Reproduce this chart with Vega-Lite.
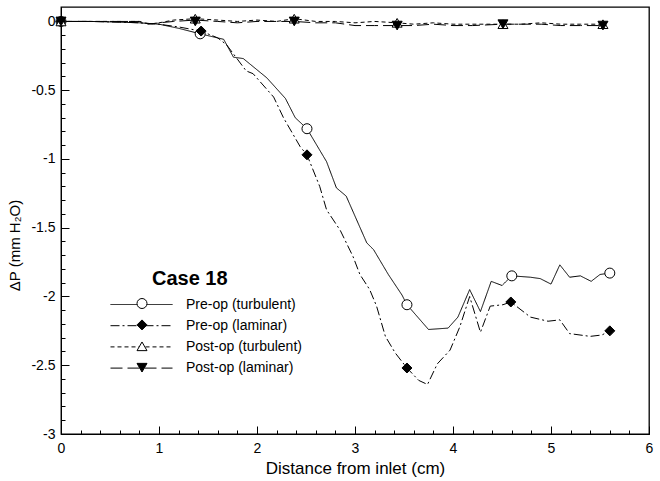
{
  "$schema": "https://vega.github.io/schema/vega-lite/v6.json",
  "autosize": {"type": "none"},
  "padding": {"left": 61, "top": 7, "right": 11, "bottom": 47},
  "width": 588,
  "height": 427,
  "background": "white",
  "config": {
    "view": {"stroke": "black", "strokeWidth": 1.3},
    "font": "Liberation Sans",
    "axis": {"grid": false, "labelColor": "black", "titleColor": "black", "tickColor": "black", "domainColor": "black", "labelFont": "Liberation Sans", "titleFont": "Liberation Sans"},
    "legend": {"labelFont": "Liberation Sans", "titleFont": "Liberation Sans", "labelColor": "black", "titleColor": "black"}
  },
  "datasets": {
    "curves": [
      {"series": "Pre-op (turbulent)", "x": 0, "y": 0},
      {"series": "Pre-op (turbulent)", "x": 0.3, "y": 0},
      {"series": "Pre-op (turbulent)", "x": 0.6, "y": -0.005},
      {"series": "Pre-op (turbulent)", "x": 0.8, "y": -0.01},
      {"series": "Pre-op (turbulent)", "x": 1.0, "y": -0.02},
      {"series": "Pre-op (turbulent)", "x": 1.2, "y": -0.05},
      {"series": "Pre-op (turbulent)", "x": 1.42, "y": -0.09},
      {"series": "Pre-op (turbulent)", "x": 1.6, "y": -0.12},
      {"series": "Pre-op (turbulent)", "x": 1.66, "y": -0.13},
      {"series": "Pre-op (turbulent)", "x": 1.76, "y": -0.26},
      {"series": "Pre-op (turbulent)", "x": 1.86, "y": -0.27},
      {"series": "Pre-op (turbulent)", "x": 2.1, "y": -0.41},
      {"series": "Pre-op (turbulent)", "x": 2.29, "y": -0.56},
      {"series": "Pre-op (turbulent)", "x": 2.39, "y": -0.7},
      {"series": "Pre-op (turbulent)", "x": 2.51, "y": -0.78},
      {"series": "Pre-op (turbulent)", "x": 2.71, "y": -1.02},
      {"series": "Pre-op (turbulent)", "x": 2.81, "y": -1.21},
      {"series": "Pre-op (turbulent)", "x": 2.91, "y": -1.27},
      {"series": "Pre-op (turbulent)", "x": 3.12, "y": -1.61},
      {"series": "Pre-op (turbulent)", "x": 3.19, "y": -1.66},
      {"series": "Pre-op (turbulent)", "x": 3.34, "y": -1.84},
      {"series": "Pre-op (turbulent)", "x": 3.48, "y": -1.99},
      {"series": "Pre-op (turbulent)", "x": 3.53, "y": -2.06},
      {"series": "Pre-op (turbulent)", "x": 3.75, "y": -2.24},
      {"series": "Pre-op (turbulent)", "x": 3.95, "y": -2.23},
      {"series": "Pre-op (turbulent)", "x": 4.05, "y": -2.15},
      {"series": "Pre-op (turbulent)", "x": 4.17, "y": -1.95},
      {"series": "Pre-op (turbulent)", "x": 4.28, "y": -2.11},
      {"series": "Pre-op (turbulent)", "x": 4.39, "y": -1.89},
      {"series": "Pre-op (turbulent)", "x": 4.5, "y": -1.92},
      {"series": "Pre-op (turbulent)", "x": 4.6, "y": -1.85},
      {"series": "Pre-op (turbulent)", "x": 4.79, "y": -1.86},
      {"series": "Pre-op (turbulent)", "x": 4.89, "y": -1.87},
      {"series": "Pre-op (turbulent)", "x": 5.0, "y": -1.91},
      {"series": "Pre-op (turbulent)", "x": 5.09, "y": -1.77},
      {"series": "Pre-op (turbulent)", "x": 5.19, "y": -1.86},
      {"series": "Pre-op (turbulent)", "x": 5.3, "y": -1.85},
      {"series": "Pre-op (turbulent)", "x": 5.41, "y": -1.89},
      {"series": "Pre-op (turbulent)", "x": 5.5, "y": -1.84},
      {"series": "Pre-op (turbulent)", "x": 5.6, "y": -1.83},
      {"series": "Pre-op (laminar)", "x": 0, "y": 0},
      {"series": "Pre-op (laminar)", "x": 0.3, "y": 0},
      {"series": "Pre-op (laminar)", "x": 0.6, "y": -0.005},
      {"series": "Pre-op (laminar)", "x": 0.8, "y": -0.01},
      {"series": "Pre-op (laminar)", "x": 1.0, "y": -0.02},
      {"series": "Pre-op (laminar)", "x": 1.2, "y": -0.04},
      {"series": "Pre-op (laminar)", "x": 1.43, "y": -0.07},
      {"series": "Pre-op (laminar)", "x": 1.6, "y": -0.12},
      {"series": "Pre-op (laminar)", "x": 1.69, "y": -0.17},
      {"series": "Pre-op (laminar)", "x": 1.89, "y": -0.36},
      {"series": "Pre-op (laminar)", "x": 1.96, "y": -0.38},
      {"series": "Pre-op (laminar)", "x": 2.17, "y": -0.55},
      {"series": "Pre-op (laminar)", "x": 2.27, "y": -0.7},
      {"series": "Pre-op (laminar)", "x": 2.44, "y": -0.91},
      {"series": "Pre-op (laminar)", "x": 2.51, "y": -0.97},
      {"series": "Pre-op (laminar)", "x": 2.64, "y": -1.2},
      {"series": "Pre-op (laminar)", "x": 2.71, "y": -1.37},
      {"series": "Pre-op (laminar)", "x": 2.85, "y": -1.52},
      {"series": "Pre-op (laminar)", "x": 2.98, "y": -1.71},
      {"series": "Pre-op (laminar)", "x": 3.05, "y": -1.84},
      {"series": "Pre-op (laminar)", "x": 3.15, "y": -1.95},
      {"series": "Pre-op (laminar)", "x": 3.22, "y": -2.07},
      {"series": "Pre-op (laminar)", "x": 3.31, "y": -2.29},
      {"series": "Pre-op (laminar)", "x": 3.41, "y": -2.41},
      {"series": "Pre-op (laminar)", "x": 3.53, "y": -2.52},
      {"series": "Pre-op (laminar)", "x": 3.65, "y": -2.61},
      {"series": "Pre-op (laminar)", "x": 3.74, "y": -2.64},
      {"series": "Pre-op (laminar)", "x": 3.84, "y": -2.49},
      {"series": "Pre-op (laminar)", "x": 3.97, "y": -2.39},
      {"series": "Pre-op (laminar)", "x": 4.07, "y": -2.22},
      {"series": "Pre-op (laminar)", "x": 4.17, "y": -2.0},
      {"series": "Pre-op (laminar)", "x": 4.28, "y": -2.26},
      {"series": "Pre-op (laminar)", "x": 4.38, "y": -2.07},
      {"series": "Pre-op (laminar)", "x": 4.51, "y": -2.06},
      {"series": "Pre-op (laminar)", "x": 4.59, "y": -2.04},
      {"series": "Pre-op (laminar)", "x": 4.79, "y": -2.15},
      {"series": "Pre-op (laminar)", "x": 4.97, "y": -2.18},
      {"series": "Pre-op (laminar)", "x": 5.09, "y": -2.17},
      {"series": "Pre-op (laminar)", "x": 5.19, "y": -2.27},
      {"series": "Pre-op (laminar)", "x": 5.4, "y": -2.29},
      {"series": "Pre-op (laminar)", "x": 5.52, "y": -2.28},
      {"series": "Pre-op (laminar)", "x": 5.6, "y": -2.25},
      {"series": "Post-op (turbulent)", "x": 0, "y": 0},
      {"series": "Post-op (turbulent)", "x": 0.4, "y": 0},
      {"series": "Post-op (turbulent)", "x": 0.8, "y": 0},
      {"series": "Post-op (turbulent)", "x": 0.9, "y": -0.02},
      {"series": "Post-op (turbulent)", "x": 1.0, "y": -0.01},
      {"series": "Post-op (turbulent)", "x": 1.15, "y": 0.01},
      {"series": "Post-op (turbulent)", "x": 1.37, "y": 0.02},
      {"series": "Post-op (turbulent)", "x": 1.6, "y": 0.01},
      {"series": "Post-op (turbulent)", "x": 1.8, "y": 0.0},
      {"series": "Post-op (turbulent)", "x": 2.0, "y": 0.01},
      {"series": "Post-op (turbulent)", "x": 2.2, "y": 0.0},
      {"series": "Post-op (turbulent)", "x": 2.38, "y": 0.02},
      {"series": "Post-op (turbulent)", "x": 2.6, "y": 0.0},
      {"series": "Post-op (turbulent)", "x": 2.8, "y": 0.0},
      {"series": "Post-op (turbulent)", "x": 3.0, "y": -0.01},
      {"series": "Post-op (turbulent)", "x": 3.2, "y": 0.0},
      {"series": "Post-op (turbulent)", "x": 3.43, "y": -0.01},
      {"series": "Post-op (turbulent)", "x": 3.6, "y": -0.02},
      {"series": "Post-op (turbulent)", "x": 3.8, "y": -0.01},
      {"series": "Post-op (turbulent)", "x": 4.0, "y": -0.02},
      {"series": "Post-op (turbulent)", "x": 4.2, "y": -0.02},
      {"series": "Post-op (turbulent)", "x": 4.51, "y": -0.02},
      {"series": "Post-op (turbulent)", "x": 4.7, "y": -0.02},
      {"series": "Post-op (turbulent)", "x": 4.9, "y": -0.01},
      {"series": "Post-op (turbulent)", "x": 5.1, "y": -0.02},
      {"series": "Post-op (turbulent)", "x": 5.3, "y": -0.02},
      {"series": "Post-op (turbulent)", "x": 5.53, "y": -0.02},
      {"series": "Post-op (laminar)", "x": 0, "y": 0},
      {"series": "Post-op (laminar)", "x": 0.4, "y": 0},
      {"series": "Post-op (laminar)", "x": 0.8, "y": 0},
      {"series": "Post-op (laminar)", "x": 0.9, "y": -0.02},
      {"series": "Post-op (laminar)", "x": 1.0, "y": -0.01},
      {"series": "Post-op (laminar)", "x": 1.15, "y": 0.0},
      {"series": "Post-op (laminar)", "x": 1.37, "y": 0.01},
      {"series": "Post-op (laminar)", "x": 1.6, "y": 0.0},
      {"series": "Post-op (laminar)", "x": 1.8, "y": -0.01},
      {"series": "Post-op (laminar)", "x": 2.0, "y": 0.0},
      {"series": "Post-op (laminar)", "x": 2.2, "y": 0.0},
      {"series": "Post-op (laminar)", "x": 2.38, "y": 0.0},
      {"series": "Post-op (laminar)", "x": 2.6, "y": -0.01},
      {"series": "Post-op (laminar)", "x": 2.8, "y": -0.01},
      {"series": "Post-op (laminar)", "x": 3.0, "y": -0.03},
      {"series": "Post-op (laminar)", "x": 3.2, "y": -0.03},
      {"series": "Post-op (laminar)", "x": 3.43, "y": -0.03},
      {"series": "Post-op (laminar)", "x": 3.6, "y": -0.03},
      {"series": "Post-op (laminar)", "x": 3.8, "y": -0.02},
      {"series": "Post-op (laminar)", "x": 4.0, "y": -0.03},
      {"series": "Post-op (laminar)", "x": 4.2, "y": -0.03},
      {"series": "Post-op (laminar)", "x": 4.51, "y": -0.02},
      {"series": "Post-op (laminar)", "x": 4.7, "y": -0.02},
      {"series": "Post-op (laminar)", "x": 4.9, "y": -0.02},
      {"series": "Post-op (laminar)", "x": 5.1, "y": -0.03},
      {"series": "Post-op (laminar)", "x": 5.3, "y": -0.03},
      {"series": "Post-op (laminar)", "x": 5.53, "y": -0.03}
    ],
    "markers": [
      {"series": "Pre-op (turbulent)", "x": 0, "y": 0},
      {"series": "Pre-op (turbulent)", "x": 1.42, "y": -0.09},
      {"series": "Pre-op (turbulent)", "x": 2.51, "y": -0.78},
      {"series": "Pre-op (turbulent)", "x": 3.53, "y": -2.06},
      {"series": "Pre-op (turbulent)", "x": 4.6, "y": -1.85},
      {"series": "Pre-op (turbulent)", "x": 5.6, "y": -1.83},
      {"series": "Pre-op (laminar)", "x": 0, "y": 0},
      {"series": "Pre-op (laminar)", "x": 1.43, "y": -0.07},
      {"series": "Pre-op (laminar)", "x": 2.51, "y": -0.97},
      {"series": "Pre-op (laminar)", "x": 3.53, "y": -2.52},
      {"series": "Pre-op (laminar)", "x": 4.59, "y": -2.04},
      {"series": "Pre-op (laminar)", "x": 5.6, "y": -2.25},
      {"series": "Post-op (turbulent)", "x": 0, "y": 0},
      {"series": "Post-op (turbulent)", "x": 1.37, "y": 0.02},
      {"series": "Post-op (turbulent)", "x": 2.38, "y": 0.02},
      {"series": "Post-op (turbulent)", "x": 3.43, "y": -0.01},
      {"series": "Post-op (turbulent)", "x": 4.51, "y": -0.02},
      {"series": "Post-op (turbulent)", "x": 5.53, "y": -0.02},
      {"series": "Post-op (laminar)", "x": 0, "y": 0},
      {"series": "Post-op (laminar)", "x": 1.37, "y": 0.0},
      {"series": "Post-op (laminar)", "x": 2.38, "y": 0.0},
      {"series": "Post-op (laminar)", "x": 3.43, "y": -0.03},
      {"series": "Post-op (laminar)", "x": 4.51, "y": -0.02},
      {"series": "Post-op (laminar)", "x": 5.53, "y": -0.03}
    ]
  },
  "resolve": {"axis": {"x": "independent", "y": "independent"}},
  "layer": [
    {
      "data": {"name": "curves"},
      "mark": {"type": "line", "color": "black", "strokeWidth": 1},
      "encoding": {
        "x": {"field": "x", "type": "quantitative",
          "scale": {"domain": [0, 6], "nice": false, "zero": false},
          "axis": {"orient": "bottom", "values": [0, 1, 2, 3, 4, 5, 6], "tickSize": -8, "tickWidth": 1, "labelPadding": 15, "labelFontSize": 14, "labelFlush": false, "labelOverlap": false, "domainWidth": 1, "title": "Distance from inlet (cm)", "titleFontSize": 17, "titleFontWeight": "normal", "titlePadding": 5}},
        "y": {"field": "y", "type": "quantitative",
          "scale": {"domain": [-3, 0.105], "nice": false, "zero": false},
          "axis": {"orient": "left", "values": [0, -0.5, -1, -1.5, -2, -2.5, -3], "tickSize": -8, "tickWidth": 1, "labelPadding": 14, "labelFontSize": 14, "labelFlush": false, "labelOverlap": false, "labelExpr": "'' + datum.value", "domainWidth": 1, "title": "ΔP (mm H₂O)", "titleFontSize": 15, "titleFontWeight": "normal", "titlePadding": 8, "titleY": 238}},
        "strokeDash": {"field": "series", "type": "nominal",
          "scale": {"domain": ["Pre-op (turbulent)", "Pre-op (laminar)", "Post-op (turbulent)", "Post-op (laminar)"],
                    "range": [[1, 0], [9, 3, 2, 3], [4, 3], [12, 5]]},
          "legend": {"orient": "none", "legendX": 49, "legendY": 288, "padding": 0, "title": null, "symbolType": "stroke", "symbolSize": 3844, "symbolStrokeWidth": 1, "symbolStrokeColor": "black", "labelFontSize": 14, "labelOffset": 13, "clipHeight": 19, "rowPadding": 2.2}},
        "detail": {"field": "series"}
      }
    },
    {
      "data": {"name": "markers"},
      "mark": {"type": "point", "filled": true, "strokeWidth": 1, "opacity": 1, "size": 100},
      "encoding": {
        "x": {"field": "x", "type": "quantitative",
          "axis": {"orient": "bottom", "values": [0, 0.2, 0.4, 0.6, 0.8, 1, 1.2, 1.4, 1.6, 1.8, 2, 2.2, 2.4, 2.6, 2.8, 3, 3.2, 3.4, 3.6, 3.8, 4, 4.2, 4.4, 4.6, 4.8, 5, 5.2, 5.4, 5.6, 5.8, 6], "tickSize": -4, "tickWidth": 1, "labels": false, "domain": false, "title": null}},
        "y": {"field": "y", "type": "quantitative",
          "axis": {"orient": "left", "values": [0, -0.1, -0.2, -0.3, -0.4, -0.5, -0.6, -0.7, -0.8, -0.9, -1, -1.1, -1.2, -1.3, -1.4, -1.5, -1.6, -1.7, -1.8, -1.9, -2, -2.1, -2.2, -2.3, -2.4, -2.5, -2.6, -2.7, -2.8, -2.9, -3], "tickSize": -4, "tickWidth": 1, "labels": false, "domain": false, "title": null}},
        "shape": {"field": "series", "type": "nominal",
          "scale": {"range": ["triangle-down", "triangle-up", "diamond", "circle"]},
          "legend": {"orient": "none", "legendX": 91, "legendY": 262, "padding": 0, "title": "Case 18", "titleFontSize": 20, "titleFontWeight": "bold", "titlePadding": 9, "values": ["Pre-op (turbulent)", "Pre-op (laminar)", "Post-op (turbulent)", "Post-op (laminar)"], "symbolSize": 100, "symbolStrokeWidth": 1, "labelExpr": "''", "labelFontSize": 4, "labelOffset": 0, "gridAlign": "all", "rowPadding": 6.4, "symbolOffset": -15.5}},
        "fill": {"field": "series", "type": "nominal",
          "scale": {"range": ["black", "white", "black", "white"]},
          "legend": {"orient": "none", "legendX": 91, "legendY": 262, "padding": 0, "title": "Case 18", "titleFontSize": 20, "titleFontWeight": "bold", "titlePadding": 9, "values": ["Pre-op (turbulent)", "Pre-op (laminar)", "Post-op (turbulent)", "Post-op (laminar)"], "symbolSize": 100, "symbolStrokeWidth": 1, "labelExpr": "''", "labelFontSize": 4, "labelOffset": 0, "gridAlign": "all", "rowPadding": 6.4, "symbolOffset": -15.5}},
        "stroke": {"field": "series", "type": "nominal",
          "scale": {"range": ["black", "black", "black", "black"]},
          "legend": {"orient": "none", "legendX": 91, "legendY": 262, "padding": 0, "title": "Case 18", "titleFontSize": 20, "titleFontWeight": "bold", "titlePadding": 9, "values": ["Pre-op (turbulent)", "Pre-op (laminar)", "Post-op (turbulent)", "Post-op (laminar)"], "symbolSize": 100, "symbolStrokeWidth": 1, "labelExpr": "''", "labelFontSize": 4, "labelOffset": 0, "gridAlign": "all", "rowPadding": 6.4, "symbolOffset": -15.5}}
      }
    }
  ]
}
